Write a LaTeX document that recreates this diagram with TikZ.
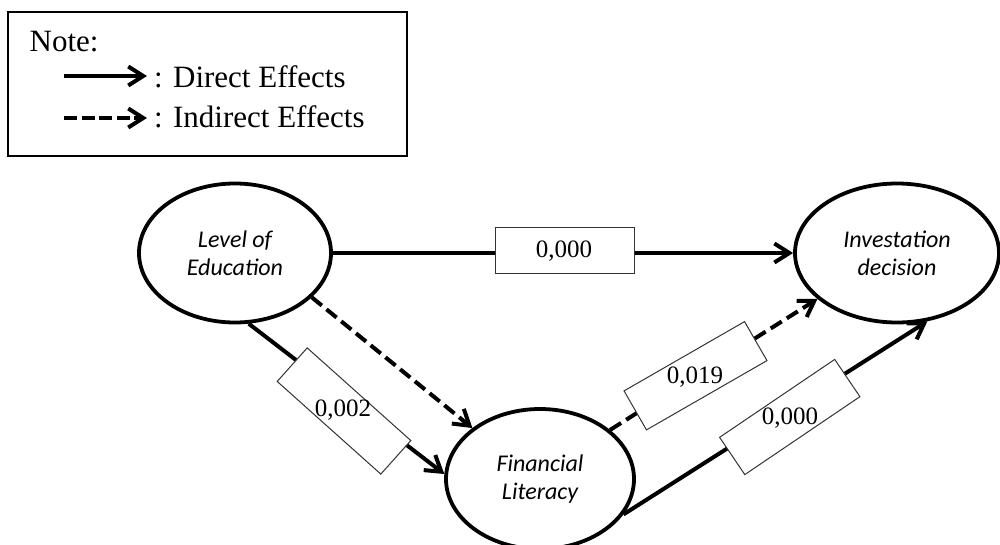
\documentclass[tikz,border=0pt]{standalone}
\usepackage{fontspec}
\setmainfont{Liberation Serif}
\newfontfamily\calib{Carlito}
\usetikzlibrary{arrows.meta,shapes.geometric}
\begin{document}
\begin{tikzpicture}[x=1pt,y=-1pt,
  construct/.style={ellipse, draw, line width=3.8pt, inner sep=0pt, align=center,
    font=\calib\itshape\fontsize{24}{28}\selectfont},
  conn/.style={line width=4pt, -{Straight Barb[length=15pt,width=19pt]}},
  dconn/.style={conn, dash pattern=on 13pt off 6pt},
  legarrow/.style={line width=4pt, -{Straight Barb[length=15pt,width=19pt]}},
  valbox/.style={draw=black!80, line width=1pt, fill=white, minimum width=139pt,
    minimum height=45pt, inner sep=0pt},
  valtxt/.style={font=\fontsize{25}{30}\selectfont, inner sep=0pt},
  legtxt/.style={font=\fontsize{31}{37}\selectfont, inner sep=0pt, anchor=base west}]
\useasboundingbox (0,0) rectangle (1000,545);

% legend
\node[draw, line width=2.5pt, minimum width=399pt, minimum height=144pt, inner sep=0pt] (LG) at (207.5,84) {};
\node[legtxt] (N) at (29.5,52) {Note:};
\coordinate (a1s) at (64,76);
\coordinate (a1e) at (147,76);
\draw[legarrow] (a1s) -- (a1e);
\node[legtxt] (D) at (154,88) {: Direct Effects};
\coordinate (a2s) at (64,118);
\coordinate (a2e) at (147,118);
\draw[legarrow, dash pattern=on 13pt off 4.5pt] (a2s) -- (a2e);
\node[legtxt] (I) at (154,128) {: Indirect Effects};

% constructs
\node[construct, minimum width=192pt, minimum height=139pt] (LE) at (235,253) {Level of\\Education};
\node[construct, minimum width=204pt, minimum height=139pt] (ID) at (897,253) {Investation\\decision};
\node[construct, minimum width=188pt, minimum height=140pt] (FL) at (540,479) {Financial\\Literacy};

% connectors
\draw[conn] (LE.east) -- (ID.west);
\draw[conn] (LE.-79.5) -- (FL.177.6);
\draw[dconn] (LE.-30) -- (FL.143.5);
\draw[dconn] (FL.35.8) -- (ID.210.9);
\draw[conn] (FL.-23.8) -- (ID.-66.5);

% value boxes
\node[valbox] (B0) at (564.5,250.5) {};
\node[valtxt] (T0) at (564,251) {0,000};
\node[valbox, rotate=-41.8] (B1) at (344,411) {};
\node[valtxt] (T1) at (343,410) {0,002};
\node[valbox, rotate=29.9] (B2) at (695.5,375.75) {};
\node[valtxt] (T2) at (695,377) {0,019};
\node[valbox, rotate=34.1] (B3) at (789.75,417) {};
\node[valtxt] (T3) at (790,418) {0,000};
\end{tikzpicture}
\end{document}
